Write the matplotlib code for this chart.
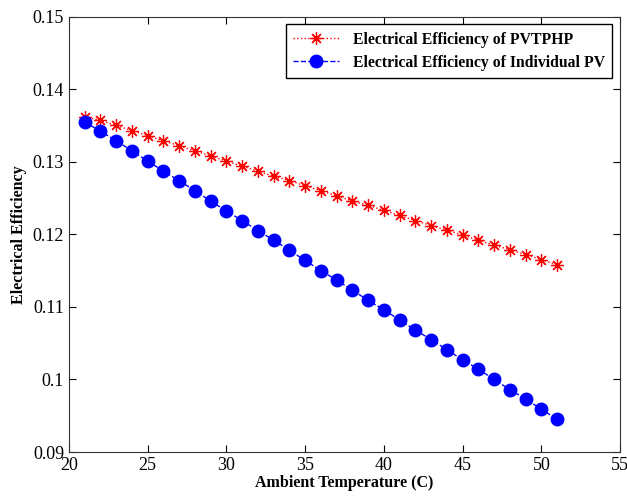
import matplotlib
matplotlib.use("Agg")
import matplotlib.pyplot as plt

plt.rcParams["font.family"] = ["Liberation Serif", "DejaVu Serif"]

temp = list(range(21, 52))

eff_pvtphp = [0.1362, 0.1357, 0.1350, 0.1343, 0.1336, 0.1329, 0.1322, 0.1315,
              0.1308, 0.1301, 0.1294, 0.1287, 0.1280, 0.1274, 0.1267, 0.1260,
              0.1253, 0.1246, 0.1240, 0.1233, 0.1226, 0.1219, 0.1212, 0.1206,
              0.1199, 0.1192, 0.1185, 0.1179, 0.1172, 0.1165, 0.1158]

eff_pv = [0.1355, 0.1342, 0.1329, 0.1315, 0.1301, 0.1287, 0.1274, 0.1260,
          0.1246, 0.1232, 0.1219, 0.1205, 0.1192, 0.1178, 0.1164, 0.1150,
          0.1137, 0.1123, 0.1109, 0.1096, 0.1082, 0.1068, 0.1055, 0.1041,
          0.1027, 0.1014, 0.1000, 0.0986, 0.0973, 0.0959, 0.0945]

fig = plt.figure(figsize=(6.27, 4.97), dpi=100)
ax = fig.add_axes([0.110, 0.0905, 0.879, 0.876])

# asterisk marker like MATLAB '*'
ax.plot(temp, eff_pvtphp, color="red", linestyle=":", linewidth=1.0,
        marker=(8, 2, 0), markersize=9, markeredgewidth=0.9,
        label="Electrical Efficiency of PVTPHP")
ax.plot(temp, eff_pv, color="blue", linestyle="--", linewidth=1.0,
        marker="o", markersize=9, label="Electrical Efficiency of Individual PV")

ax.set_xlim(20, 55)
ax.set_ylim(0.09, 0.15)
ax.set_xticks([20, 25, 30, 35, 40, 45, 50, 55])
ax.set_yticks([0.09, 0.1, 0.11, 0.12, 0.13, 0.14, 0.15])
ax.set_yticklabels(["0.09", "0.1", "0.11", "0.12", "0.13", "0.14", "0.15"])
ax.tick_params(direction="in", top=True, right=True, labelsize=13, length=5,
               pad=3.5)
for spine in ax.spines.values():
    spine.set_edgecolor("#333333")

ax.set_xlabel("Ambient Temperature (C)", fontweight="bold", fontsize=11.5, labelpad=1)
ax.set_ylabel("Electrical Efficiency", fontweight="bold", fontsize=11.5, labelpad=4)

leg = ax.legend(loc="upper right", prop={"weight": "bold", "size": 11.3},
                fancybox=False, edgecolor="black", framealpha=1,
                borderaxespad=0.5, handlelength=2.9, handletextpad=0.9,
                borderpad=0.45, labelspacing=0.45)
leg.get_frame().set_linewidth(1.0)

plt.savefig("out.png", dpi=100)
